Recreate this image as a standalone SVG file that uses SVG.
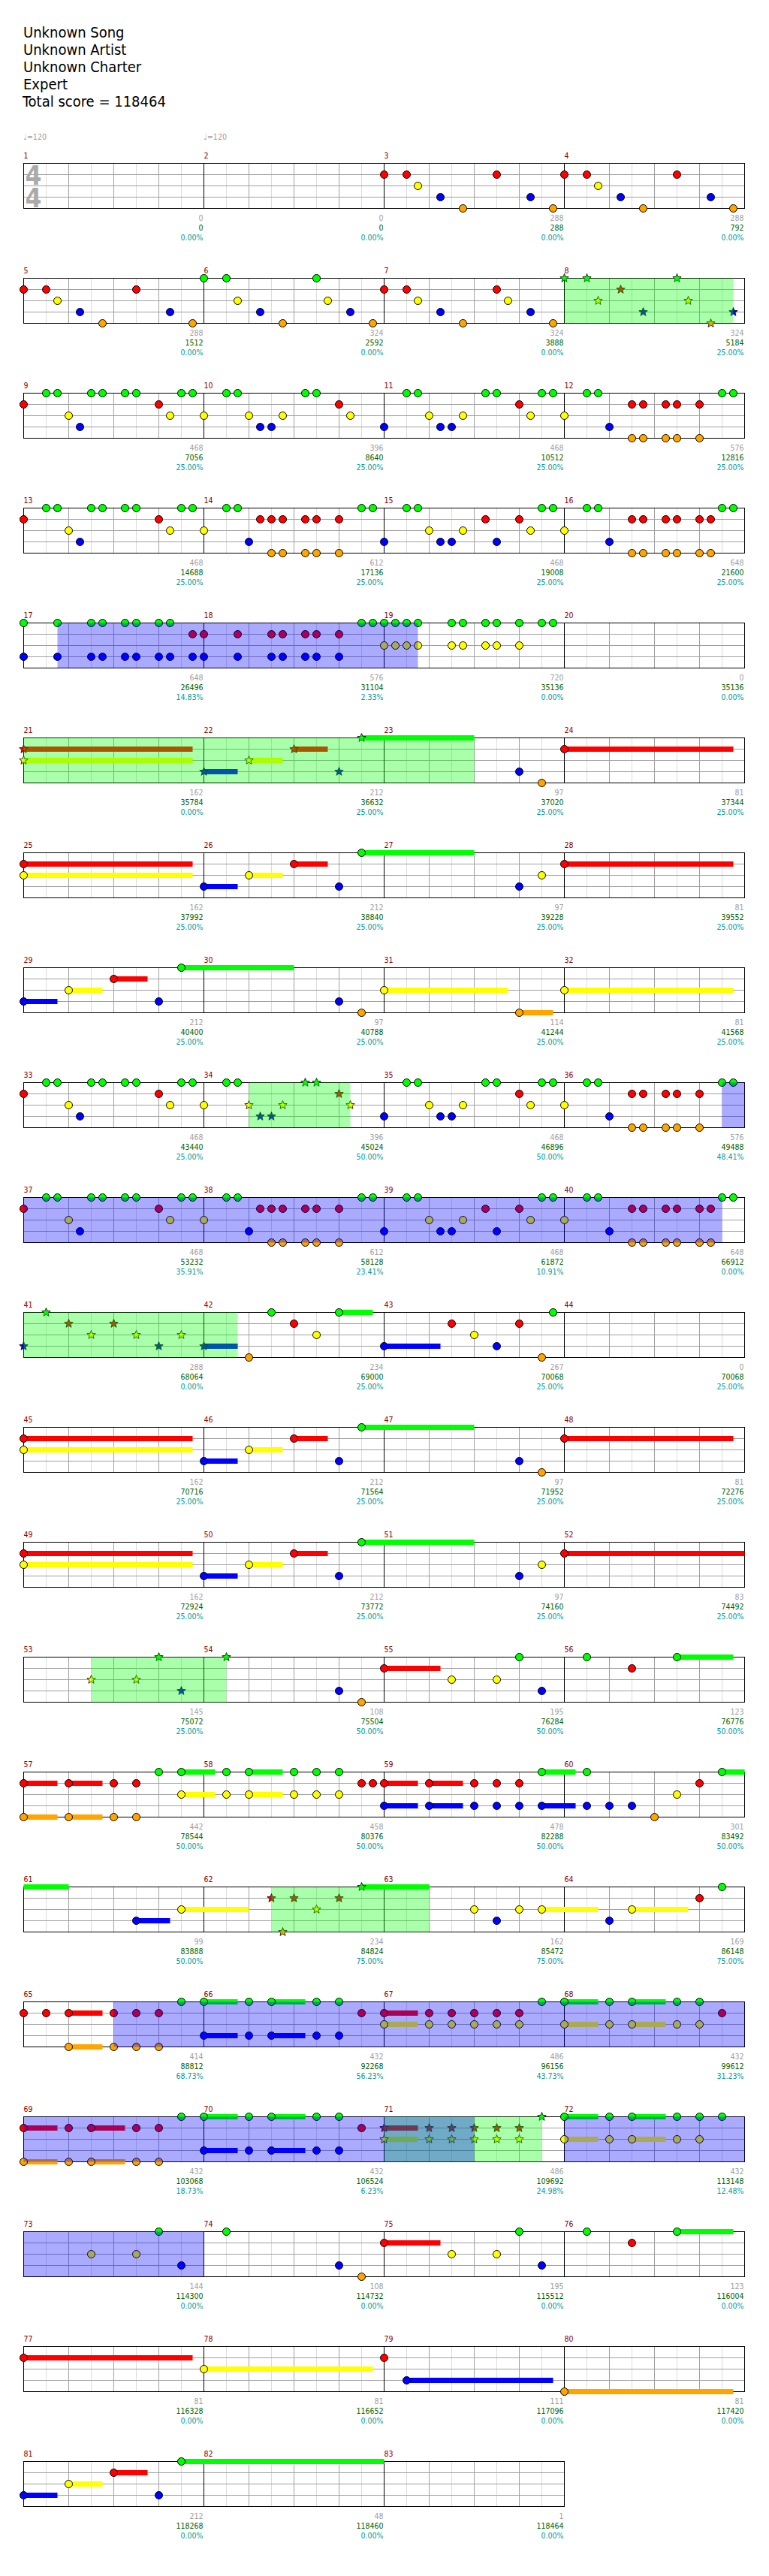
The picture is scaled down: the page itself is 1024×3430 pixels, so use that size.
<svg xmlns="http://www.w3.org/2000/svg" width="1024" height="3430" viewBox="0 0 1024 3430">
<style>
text{font-family:"DejaVu Sans Condensed","DejaVu Sans",sans-serif;font-stretch:condensed}
.h{font-size:20px;fill:#000}
.mn{font-size:10.5px;fill:#8b0000}
.tp{font-size:10.5px;fill:#999}
.ts{font-size:35px;font-weight:bold;fill:#aaa;text-anchor:middle}
.s1,.s2,.s3{font-size:10.5px;text-anchor:end}
.s1{fill:#a0a0a0}.s2{fill:#006400}.s3{fill:#009b9b}
.g{fill:#00ff00}.r{fill:#ff0000}.y{fill:#ffff00}.b{fill:#0000ff}.o{fill:#ffa500}
circle{stroke:#000;stroke-width:1}
.lg{stroke:#dcdcdc;fill:none}.dk{stroke:#a0a0a0;fill:none}
.gp{fill:#00ff00;fill-opacity:.333}.bp{fill:#0000ff;fill-opacity:.333}
</style>
<defs>
<g id="meas"><path class="lg" d="M30 0V60M90 0V60M150 0V60M210 0V60"/><path class="dk" d="M60 0V60M120 0V60M180 0V60M0 15H240M0 30H240M0 45H240"/></g>
<g id="g4"><use href="#meas"/><use href="#meas" x="240"/><use href="#meas" x="480"/><use href="#meas" x="720"/><path d="M240 0V60M480 0V60M720 0V60" stroke="#000" fill="none"/><rect width="960" height="60" fill="none" stroke="#000"/></g>
<g id="g3"><use href="#meas"/><use href="#meas" x="240"/><use href="#meas" x="480"/><path d="M240 0V60M480 0V60" stroke="#000" fill="none"/><rect width="720" height="60" fill="none" stroke="#000"/></g>
<path id="st" d="M0-6L1.53-2.1L5.71-1.85L2.47 0.8L3.53 4.85L0 2.6L-3.53 4.85L-2.47 0.8L-5.71-1.85L-1.53-2.1Z" stroke="#000" stroke-width=".8"/>
</defs>
<rect width="1024" height="3430" fill="#fff"/>
<g id="header">
<text class="h" x="31" y="50">Unknown Song</text>
<text class="h" x="31" y="73">Unknown Artist</text>
<text class="h" x="31" y="96">Unknown Charter</text>
<text class="h" x="31" y="119">Expert</text>
<text class="h" x="30" y="142">Total score = 118464</text>
</g>

<g id="row1" transform="translate(31.5,217.5)">
<use href="#g4"/>
<text class="ts"><tspan x="13" y="28">4</tspan><tspan x="13" y="58">4</tspan></text>
<circle class="r" cx="480" cy="15" r="5"/><circle class="r" cx="510" cy="15" r="5"/><circle class="y" cx="525" cy="30" r="5"/><circle class="b" cx="555" cy="45" r="5"/><circle class="o" cx="585" cy="60" r="5"/><circle class="r" cx="630" cy="15" r="5"/><circle class="b" cx="675" cy="45" r="5"/><circle class="o" cx="705" cy="60" r="5"/>
<circle class="r" cx="720" cy="15" r="5"/><circle class="r" cx="750" cy="15" r="5"/><circle class="y" cx="765" cy="30" r="5"/><circle class="b" cx="795" cy="45" r="5"/><circle class="o" cx="825" cy="60" r="5"/><circle class="r" cx="870" cy="15" r="5"/><circle class="b" cx="915" cy="45" r="5"/><circle class="o" cx="945" cy="60" r="5"/>
<text class="tp" x="0" y="-32">♩=120</text><text class="tp" x="240" y="-32">♩=120</text>
<text class="mn" x="0" y="-7">1</text><text class="mn" x="240" y="-7">2</text><text class="mn" x="480" y="-7">3</text><text class="mn" x="720" y="-7">4</text>
<text class="s1" x="239" y="76">0</text><text class="s2" x="239" y="89">0</text><text class="s3" x="239" y="102">0.00%</text>
<text class="s1" x="479" y="76">0</text><text class="s2" x="479" y="89">0</text><text class="s3" x="479" y="102">0.00%</text>
<text class="s1" x="719" y="76">288</text><text class="s2" x="719" y="89">288</text><text class="s3" x="719" y="102">0.00%</text>
<text class="s1" x="959" y="76">288</text><text class="s2" x="959" y="89">792</text><text class="s3" x="959" y="102">0.00%</text>
</g>

<g id="row2" transform="translate(31.5,370.5)">
<use href="#g4"/>
<circle class="r" cx="0" cy="15" r="5"/><circle class="r" cx="30" cy="15" r="5"/><circle class="y" cx="45" cy="30" r="5"/><circle class="b" cx="75" cy="45" r="5"/><circle class="o" cx="105" cy="60" r="5"/><circle class="r" cx="150" cy="15" r="5"/><circle class="b" cx="195" cy="45" r="5"/><circle class="o" cx="225" cy="60" r="5"/>
<circle class="g" cx="240" cy="0" r="5"/><circle class="g" cx="270" cy="0" r="5"/><circle class="y" cx="285" cy="30" r="5"/><circle class="b" cx="315" cy="45" r="5"/><circle class="o" cx="345" cy="60" r="5"/><circle class="g" cx="390" cy="0" r="5"/><circle class="y" cx="405" cy="30" r="5"/><circle class="b" cx="435" cy="45" r="5"/><circle class="o" cx="465" cy="60" r="5"/>
<circle class="r" cx="480" cy="15" r="5"/><circle class="r" cx="510" cy="15" r="5"/><circle class="y" cx="525" cy="30" r="5"/><circle class="b" cx="555" cy="45" r="5"/><circle class="o" cx="585" cy="60" r="5"/><circle class="r" cx="630" cy="15" r="5"/><circle class="y" cx="645" cy="30" r="5"/><circle class="b" cx="675" cy="45" r="5"/><circle class="o" cx="705" cy="60" r="5"/>
<use href="#st" class="g" x="720" y="0"/><use href="#st" class="g" x="750" y="0"/><use href="#st" class="y" x="765" y="30"/><use href="#st" class="r" x="795" y="15"/><use href="#st" class="b" x="825" y="45"/><use href="#st" class="g" x="870" y="0"/><use href="#st" class="y" x="885" y="30"/><use href="#st" class="o" x="915" y="60"/><use href="#st" class="b" x="945" y="45"/>
<rect class="gp" x="720" y="0" width="225" height="60"/>
<text class="mn" x="0" y="-7">5</text><text class="mn" x="240" y="-7">6</text><text class="mn" x="480" y="-7">7</text><text class="mn" x="720" y="-7">8</text>
<text class="s1" x="239" y="76">288</text><text class="s2" x="239" y="89">1512</text><text class="s3" x="239" y="102">0.00%</text>
<text class="s1" x="479" y="76">324</text><text class="s2" x="479" y="89">2592</text><text class="s3" x="479" y="102">0.00%</text>
<text class="s1" x="719" y="76">324</text><text class="s2" x="719" y="89">3888</text><text class="s3" x="719" y="102">0.00%</text>
<text class="s1" x="959" y="76">324</text><text class="s2" x="959" y="89">5184</text><text class="s3" x="959" y="102">25.00%</text>
</g>

<g id="row3" transform="translate(31.5,523.5)">
<use href="#g4"/>
<circle class="g" cx="30" cy="0" r="5"/><circle class="g" cx="45" cy="0" r="5"/><circle class="g" cx="90" cy="0" r="5"/><circle class="g" cx="105" cy="0" r="5"/><circle class="g" cx="135" cy="0" r="5"/><circle class="g" cx="150" cy="0" r="5"/><circle class="g" cx="210" cy="0" r="5"/><circle class="g" cx="225" cy="0" r="5"/><circle class="g" cx="270" cy="0" r="5"/><circle class="g" cx="285" cy="0" r="5"/><circle class="g" cx="375" cy="0" r="5"/><circle class="g" cx="390" cy="0" r="5"/><circle class="g" cx="510" cy="0" r="5"/><circle class="g" cx="525" cy="0" r="5"/><circle class="g" cx="615" cy="0" r="5"/><circle class="g" cx="630" cy="0" r="5"/><circle class="g" cx="690" cy="0" r="5"/><circle class="g" cx="705" cy="0" r="5"/><circle class="g" cx="750" cy="0" r="5"/><circle class="g" cx="765" cy="0" r="5"/><circle class="g" cx="930" cy="0" r="5"/><circle class="g" cx="945" cy="0" r="5"/>
<circle class="r" cx="0" cy="15" r="5"/><circle class="r" cx="180" cy="15" r="5"/><circle class="r" cx="420" cy="15" r="5"/><circle class="r" cx="660" cy="15" r="5"/><circle class="r" cx="810" cy="15" r="5"/><circle class="r" cx="825" cy="15" r="5"/><circle class="r" cx="855" cy="15" r="5"/><circle class="r" cx="870" cy="15" r="5"/><circle class="r" cx="900" cy="15" r="5"/>
<circle class="y" cx="60" cy="30" r="5"/><circle class="y" cx="195" cy="30" r="5"/><circle class="y" cx="240" cy="30" r="5"/><circle class="y" cx="300" cy="30" r="5"/><circle class="y" cx="345" cy="30" r="5"/><circle class="y" cx="435" cy="30" r="5"/><circle class="y" cx="540" cy="30" r="5"/><circle class="y" cx="585" cy="30" r="5"/><circle class="y" cx="675" cy="30" r="5"/><circle class="y" cx="720" cy="30" r="5"/>
<circle class="b" cx="75" cy="45" r="5"/><circle class="b" cx="315" cy="45" r="5"/><circle class="b" cx="330" cy="45" r="5"/><circle class="b" cx="480" cy="45" r="5"/><circle class="b" cx="555" cy="45" r="5"/><circle class="b" cx="570" cy="45" r="5"/><circle class="b" cx="780" cy="45" r="5"/>
<circle class="o" cx="810" cy="60" r="5"/><circle class="o" cx="825" cy="60" r="5"/><circle class="o" cx="855" cy="60" r="5"/><circle class="o" cx="870" cy="60" r="5"/><circle class="o" cx="900" cy="60" r="5"/>
<text class="mn" x="0" y="-7">9</text><text class="mn" x="240" y="-7">10</text><text class="mn" x="480" y="-7">11</text><text class="mn" x="720" y="-7">12</text>
<text class="s1" x="239" y="76">468</text><text class="s2" x="239" y="89">7056</text><text class="s3" x="239" y="102">25.00%</text>
<text class="s1" x="479" y="76">396</text><text class="s2" x="479" y="89">8640</text><text class="s3" x="479" y="102">25.00%</text>
<text class="s1" x="719" y="76">468</text><text class="s2" x="719" y="89">10512</text><text class="s3" x="719" y="102">25.00%</text>
<text class="s1" x="959" y="76">576</text><text class="s2" x="959" y="89">12816</text><text class="s3" x="959" y="102">25.00%</text>
</g>

<g id="row4" transform="translate(31.5,676.5)">
<use href="#g4"/>
<circle class="g" cx="30" cy="0" r="5"/><circle class="g" cx="45" cy="0" r="5"/><circle class="g" cx="90" cy="0" r="5"/><circle class="g" cx="105" cy="0" r="5"/><circle class="g" cx="135" cy="0" r="5"/><circle class="g" cx="150" cy="0" r="5"/><circle class="g" cx="210" cy="0" r="5"/><circle class="g" cx="225" cy="0" r="5"/><circle class="g" cx="270" cy="0" r="5"/><circle class="g" cx="285" cy="0" r="5"/><circle class="g" cx="450" cy="0" r="5"/><circle class="g" cx="465" cy="0" r="5"/><circle class="g" cx="510" cy="0" r="5"/><circle class="g" cx="525" cy="0" r="5"/><circle class="g" cx="690" cy="0" r="5"/><circle class="g" cx="705" cy="0" r="5"/><circle class="g" cx="750" cy="0" r="5"/><circle class="g" cx="765" cy="0" r="5"/><circle class="g" cx="930" cy="0" r="5"/><circle class="g" cx="945" cy="0" r="5"/>
<circle class="r" cx="0" cy="15" r="5"/><circle class="r" cx="180" cy="15" r="5"/><circle class="r" cx="315" cy="15" r="5"/><circle class="r" cx="330" cy="15" r="5"/><circle class="r" cx="345" cy="15" r="5"/><circle class="r" cx="375" cy="15" r="5"/><circle class="r" cx="390" cy="15" r="5"/><circle class="r" cx="420" cy="15" r="5"/><circle class="r" cx="615" cy="15" r="5"/><circle class="r" cx="660" cy="15" r="5"/><circle class="r" cx="810" cy="15" r="5"/><circle class="r" cx="825" cy="15" r="5"/><circle class="r" cx="855" cy="15" r="5"/><circle class="r" cx="870" cy="15" r="5"/><circle class="r" cx="900" cy="15" r="5"/><circle class="r" cx="915" cy="15" r="5"/>
<circle class="y" cx="60" cy="30" r="5"/><circle class="y" cx="195" cy="30" r="5"/><circle class="y" cx="240" cy="30" r="5"/><circle class="y" cx="540" cy="30" r="5"/><circle class="y" cx="585" cy="30" r="5"/><circle class="y" cx="675" cy="30" r="5"/><circle class="y" cx="720" cy="30" r="5"/>
<circle class="b" cx="75" cy="45" r="5"/><circle class="b" cx="300" cy="45" r="5"/><circle class="b" cx="480" cy="45" r="5"/><circle class="b" cx="555" cy="45" r="5"/><circle class="b" cx="570" cy="45" r="5"/><circle class="b" cx="630" cy="45" r="5"/><circle class="b" cx="780" cy="45" r="5"/>
<circle class="o" cx="330" cy="60" r="5"/><circle class="o" cx="345" cy="60" r="5"/><circle class="o" cx="375" cy="60" r="5"/><circle class="o" cx="390" cy="60" r="5"/><circle class="o" cx="420" cy="60" r="5"/><circle class="o" cx="810" cy="60" r="5"/><circle class="o" cx="825" cy="60" r="5"/><circle class="o" cx="855" cy="60" r="5"/><circle class="o" cx="870" cy="60" r="5"/><circle class="o" cx="900" cy="60" r="5"/><circle class="o" cx="915" cy="60" r="5"/>
<text class="mn" x="0" y="-7">13</text><text class="mn" x="240" y="-7">14</text><text class="mn" x="480" y="-7">15</text><text class="mn" x="720" y="-7">16</text>
<text class="s1" x="239" y="76">468</text><text class="s2" x="239" y="89">14688</text><text class="s3" x="239" y="102">25.00%</text>
<text class="s1" x="479" y="76">612</text><text class="s2" x="479" y="89">17136</text><text class="s3" x="479" y="102">25.00%</text>
<text class="s1" x="719" y="76">468</text><text class="s2" x="719" y="89">19008</text><text class="s3" x="719" y="102">25.00%</text>
<text class="s1" x="959" y="76">648</text><text class="s2" x="959" y="89">21600</text><text class="s3" x="959" y="102">25.00%</text>
</g>

<g id="row5" transform="translate(31.5,829.5)">
<use href="#g4"/>
<circle class="g" cx="0" cy="0" r="5"/><circle class="g" cx="45" cy="0" r="5"/><circle class="g" cx="90" cy="0" r="5"/><circle class="g" cx="105" cy="0" r="5"/><circle class="g" cx="135" cy="0" r="5"/><circle class="g" cx="150" cy="0" r="5"/><circle class="g" cx="180" cy="0" r="5"/><circle class="g" cx="195" cy="0" r="5"/><circle class="g" cx="450" cy="0" r="5"/><circle class="g" cx="465" cy="0" r="5"/><circle class="g" cx="480" cy="0" r="5"/><circle class="g" cx="495" cy="0" r="5"/><circle class="g" cx="510" cy="0" r="5"/><circle class="g" cx="525" cy="0" r="5"/><circle class="g" cx="570" cy="0" r="5"/><circle class="g" cx="585" cy="0" r="5"/><circle class="g" cx="615" cy="0" r="5"/><circle class="g" cx="630" cy="0" r="5"/><circle class="g" cx="660" cy="0" r="5"/><circle class="g" cx="690" cy="0" r="5"/><circle class="g" cx="705" cy="0" r="5"/>
<circle class="r" cx="225" cy="15" r="5"/><circle class="r" cx="240" cy="15" r="5"/><circle class="r" cx="285" cy="15" r="5"/><circle class="r" cx="330" cy="15" r="5"/><circle class="r" cx="345" cy="15" r="5"/><circle class="r" cx="375" cy="15" r="5"/><circle class="r" cx="390" cy="15" r="5"/><circle class="r" cx="420" cy="15" r="5"/>
<circle class="y" cx="480" cy="30" r="5"/><circle class="y" cx="495" cy="30" r="5"/><circle class="y" cx="510" cy="30" r="5"/><circle class="y" cx="525" cy="30" r="5"/><circle class="y" cx="570" cy="30" r="5"/><circle class="y" cx="585" cy="30" r="5"/><circle class="y" cx="615" cy="30" r="5"/><circle class="y" cx="630" cy="30" r="5"/><circle class="y" cx="660" cy="30" r="5"/>
<circle class="b" cx="0" cy="45" r="5"/><circle class="b" cx="45" cy="45" r="5"/><circle class="b" cx="90" cy="45" r="5"/><circle class="b" cx="105" cy="45" r="5"/><circle class="b" cx="135" cy="45" r="5"/><circle class="b" cx="150" cy="45" r="5"/><circle class="b" cx="180" cy="45" r="5"/><circle class="b" cx="195" cy="45" r="5"/><circle class="b" cx="225" cy="45" r="5"/><circle class="b" cx="240" cy="45" r="5"/><circle class="b" cx="285" cy="45" r="5"/><circle class="b" cx="330" cy="45" r="5"/><circle class="b" cx="345" cy="45" r="5"/><circle class="b" cx="375" cy="45" r="5"/><circle class="b" cx="390" cy="45" r="5"/><circle class="b" cx="420" cy="45" r="5"/>
<rect class="bp" x="45" y="0" width="480" height="60"/>
<text class="mn" x="0" y="-7">17</text><text class="mn" x="240" y="-7">18</text><text class="mn" x="480" y="-7">19</text><text class="mn" x="720" y="-7">20</text>
<text class="s1" x="239" y="76">648</text><text class="s2" x="239" y="89">26496</text><text class="s3" x="239" y="102">14.83%</text>
<text class="s1" x="479" y="76">576</text><text class="s2" x="479" y="89">31104</text><text class="s3" x="479" y="102">2.33%</text>
<text class="s1" x="719" y="76">720</text><text class="s2" x="719" y="89">35136</text><text class="s3" x="719" y="102">0.00%</text>
<text class="s1" x="959" y="76">0</text><text class="s2" x="959" y="89">35136</text><text class="s3" x="959" y="102">0.00%</text>
</g>

<g id="row6" transform="translate(31.5,982.5)">
<use href="#g4"/>
<rect class="r" x="0" y="11.5" width="225" height="7"/><rect class="y" x="0" y="26.5" width="225" height="7"/><rect class="b" x="240" y="41.5" width="45" height="7"/><rect class="y" x="300" y="26.5" width="45" height="7"/><rect class="r" x="360" y="11.5" width="45" height="7"/><rect class="g" x="450" y="-3.5" width="150" height="7"/><rect class="r" x="720" y="11.5" width="225" height="7"/>
<use href="#st" class="r" x="0" y="15"/><use href="#st" class="y" x="0" y="30"/><use href="#st" class="b" x="240" y="45"/><use href="#st" class="y" x="300" y="30"/><use href="#st" class="r" x="360" y="15"/><use href="#st" class="b" x="420" y="45"/><use href="#st" class="g" x="450" y="0"/>
<circle class="b" cx="660" cy="45" r="5"/><circle class="o" cx="690" cy="60" r="5"/><circle class="r" cx="720" cy="15" r="5"/>
<rect class="gp" x="0" y="0" width="600" height="60"/>
<text class="mn" x="0" y="-7">21</text><text class="mn" x="240" y="-7">22</text><text class="mn" x="480" y="-7">23</text><text class="mn" x="720" y="-7">24</text>
<text class="s1" x="239" y="76">162</text><text class="s2" x="239" y="89">35784</text><text class="s3" x="239" y="102">0.00%</text>
<text class="s1" x="479" y="76">212</text><text class="s2" x="479" y="89">36632</text><text class="s3" x="479" y="102">25.00%</text>
<text class="s1" x="719" y="76">97</text><text class="s2" x="719" y="89">37020</text><text class="s3" x="719" y="102">25.00%</text>
<text class="s1" x="959" y="76">81</text><text class="s2" x="959" y="89">37344</text><text class="s3" x="959" y="102">25.00%</text>
</g>

<g id="row7" transform="translate(31.5,1135.5)">
<use href="#g4"/>
<rect class="r" x="0" y="11.5" width="225" height="7"/><rect class="y" x="0" y="26.5" width="225" height="7"/><rect class="b" x="240" y="41.5" width="45" height="7"/><rect class="y" x="300" y="26.5" width="45" height="7"/><rect class="r" x="360" y="11.5" width="45" height="7"/><rect class="g" x="450" y="-3.5" width="150" height="7"/><rect class="r" x="720" y="11.5" width="225" height="7"/>
<circle class="r" cx="0" cy="15" r="5"/><circle class="y" cx="0" cy="30" r="5"/><circle class="b" cx="240" cy="45" r="5"/><circle class="y" cx="300" cy="30" r="5"/><circle class="r" cx="360" cy="15" r="5"/><circle class="b" cx="420" cy="45" r="5"/><circle class="g" cx="450" cy="0" r="5"/><circle class="b" cx="660" cy="45" r="5"/><circle class="y" cx="690" cy="30" r="5"/><circle class="r" cx="720" cy="15" r="5"/>
<text class="mn" x="0" y="-7">25</text><text class="mn" x="240" y="-7">26</text><text class="mn" x="480" y="-7">27</text><text class="mn" x="720" y="-7">28</text>
<text class="s1" x="239" y="76">162</text><text class="s2" x="239" y="89">37992</text><text class="s3" x="239" y="102">25.00%</text>
<text class="s1" x="479" y="76">212</text><text class="s2" x="479" y="89">38840</text><text class="s3" x="479" y="102">25.00%</text>
<text class="s1" x="719" y="76">97</text><text class="s2" x="719" y="89">39228</text><text class="s3" x="719" y="102">25.00%</text>
<text class="s1" x="959" y="76">81</text><text class="s2" x="959" y="89">39552</text><text class="s3" x="959" y="102">25.00%</text>
</g>

<g id="row8" transform="translate(31.5,1288.5)">
<use href="#g4"/>
<rect class="b" x="0" y="41.5" width="45" height="7"/><rect class="y" x="60" y="26.5" width="45" height="7"/><rect class="r" x="120" y="11.5" width="45" height="7"/><rect class="g" x="210" y="-3.5" width="150" height="7"/><rect class="y" x="480" y="26.5" width="165" height="7"/><rect class="o" x="660" y="56.5" width="45" height="7"/><rect class="y" x="720" y="26.5" width="225" height="7"/>
<circle class="b" cx="0" cy="45" r="5"/><circle class="y" cx="60" cy="30" r="5"/><circle class="r" cx="120" cy="15" r="5"/><circle class="b" cx="180" cy="45" r="5"/><circle class="g" cx="210" cy="0" r="5"/><circle class="b" cx="420" cy="45" r="5"/><circle class="o" cx="450" cy="60" r="5"/><circle class="y" cx="480" cy="30" r="5"/><circle class="o" cx="660" cy="60" r="5"/><circle class="y" cx="720" cy="30" r="5"/>
<text class="mn" x="0" y="-7">29</text><text class="mn" x="240" y="-7">30</text><text class="mn" x="480" y="-7">31</text><text class="mn" x="720" y="-7">32</text>
<text class="s1" x="239" y="76">212</text><text class="s2" x="239" y="89">40400</text><text class="s3" x="239" y="102">25.00%</text>
<text class="s1" x="479" y="76">97</text><text class="s2" x="479" y="89">40788</text><text class="s3" x="479" y="102">25.00%</text>
<text class="s1" x="719" y="76">114</text><text class="s2" x="719" y="89">41244</text><text class="s3" x="719" y="102">25.00%</text>
<text class="s1" x="959" y="76">81</text><text class="s2" x="959" y="89">41568</text><text class="s3" x="959" y="102">25.00%</text>
</g>

<g id="row9" transform="translate(31.5,1441.5)">
<use href="#g4"/>
<circle class="g" cx="30" cy="0" r="5"/><circle class="g" cx="45" cy="0" r="5"/><circle class="g" cx="90" cy="0" r="5"/><circle class="g" cx="105" cy="0" r="5"/><circle class="g" cx="135" cy="0" r="5"/><circle class="g" cx="150" cy="0" r="5"/><circle class="g" cx="210" cy="0" r="5"/><circle class="g" cx="225" cy="0" r="5"/><circle class="g" cx="270" cy="0" r="5"/><circle class="g" cx="285" cy="0" r="5"/><circle class="g" cx="510" cy="0" r="5"/><circle class="g" cx="525" cy="0" r="5"/><circle class="g" cx="615" cy="0" r="5"/><circle class="g" cx="630" cy="0" r="5"/><circle class="g" cx="690" cy="0" r="5"/><circle class="g" cx="705" cy="0" r="5"/><circle class="g" cx="750" cy="0" r="5"/><circle class="g" cx="765" cy="0" r="5"/><circle class="g" cx="930" cy="0" r="5"/><circle class="g" cx="945" cy="0" r="5"/>
<circle class="r" cx="0" cy="15" r="5"/><circle class="r" cx="180" cy="15" r="5"/><circle class="r" cx="660" cy="15" r="5"/><circle class="r" cx="810" cy="15" r="5"/><circle class="r" cx="825" cy="15" r="5"/><circle class="r" cx="855" cy="15" r="5"/><circle class="r" cx="870" cy="15" r="5"/><circle class="r" cx="900" cy="15" r="5"/>
<circle class="y" cx="60" cy="30" r="5"/><circle class="y" cx="195" cy="30" r="5"/><circle class="y" cx="240" cy="30" r="5"/><circle class="y" cx="540" cy="30" r="5"/><circle class="y" cx="585" cy="30" r="5"/><circle class="y" cx="675" cy="30" r="5"/><circle class="y" cx="720" cy="30" r="5"/>
<circle class="b" cx="75" cy="45" r="5"/><circle class="b" cx="480" cy="45" r="5"/><circle class="b" cx="555" cy="45" r="5"/><circle class="b" cx="570" cy="45" r="5"/><circle class="b" cx="780" cy="45" r="5"/>
<circle class="o" cx="810" cy="60" r="5"/><circle class="o" cx="825" cy="60" r="5"/><circle class="o" cx="855" cy="60" r="5"/><circle class="o" cx="870" cy="60" r="5"/><circle class="o" cx="900" cy="60" r="5"/>
<use href="#st" class="g" x="375" y="0"/><use href="#st" class="g" x="390" y="0"/><use href="#st" class="r" x="420" y="15"/><use href="#st" class="y" x="300" y="30"/><use href="#st" class="y" x="345" y="30"/><use href="#st" class="y" x="435" y="30"/><use href="#st" class="b" x="315" y="45"/><use href="#st" class="b" x="330" y="45"/>
<rect class="gp" x="300" y="0" width="135" height="60"/><rect class="bp" x="930" y="0" width="30" height="60"/>
<text class="mn" x="0" y="-7">33</text><text class="mn" x="240" y="-7">34</text><text class="mn" x="480" y="-7">35</text><text class="mn" x="720" y="-7">36</text>
<text class="s1" x="239" y="76">468</text><text class="s2" x="239" y="89">43440</text><text class="s3" x="239" y="102">25.00%</text>
<text class="s1" x="479" y="76">396</text><text class="s2" x="479" y="89">45024</text><text class="s3" x="479" y="102">50.00%</text>
<text class="s1" x="719" y="76">468</text><text class="s2" x="719" y="89">46896</text><text class="s3" x="719" y="102">50.00%</text>
<text class="s1" x="959" y="76">576</text><text class="s2" x="959" y="89">49488</text><text class="s3" x="959" y="102">48.41%</text>
</g>

<g id="row10" transform="translate(31.5,1594.5)">
<use href="#g4"/>
<circle class="g" cx="30" cy="0" r="5"/><circle class="g" cx="45" cy="0" r="5"/><circle class="g" cx="90" cy="0" r="5"/><circle class="g" cx="105" cy="0" r="5"/><circle class="g" cx="135" cy="0" r="5"/><circle class="g" cx="150" cy="0" r="5"/><circle class="g" cx="210" cy="0" r="5"/><circle class="g" cx="225" cy="0" r="5"/><circle class="g" cx="270" cy="0" r="5"/><circle class="g" cx="285" cy="0" r="5"/><circle class="g" cx="450" cy="0" r="5"/><circle class="g" cx="465" cy="0" r="5"/><circle class="g" cx="510" cy="0" r="5"/><circle class="g" cx="525" cy="0" r="5"/><circle class="g" cx="690" cy="0" r="5"/><circle class="g" cx="705" cy="0" r="5"/><circle class="g" cx="750" cy="0" r="5"/><circle class="g" cx="765" cy="0" r="5"/><circle class="g" cx="930" cy="0" r="5"/><circle class="g" cx="945" cy="0" r="5"/>
<circle class="r" cx="0" cy="15" r="5"/><circle class="r" cx="180" cy="15" r="5"/><circle class="r" cx="315" cy="15" r="5"/><circle class="r" cx="330" cy="15" r="5"/><circle class="r" cx="345" cy="15" r="5"/><circle class="r" cx="375" cy="15" r="5"/><circle class="r" cx="390" cy="15" r="5"/><circle class="r" cx="420" cy="15" r="5"/><circle class="r" cx="615" cy="15" r="5"/><circle class="r" cx="660" cy="15" r="5"/><circle class="r" cx="810" cy="15" r="5"/><circle class="r" cx="825" cy="15" r="5"/><circle class="r" cx="855" cy="15" r="5"/><circle class="r" cx="870" cy="15" r="5"/><circle class="r" cx="900" cy="15" r="5"/><circle class="r" cx="915" cy="15" r="5"/>
<circle class="y" cx="60" cy="30" r="5"/><circle class="y" cx="195" cy="30" r="5"/><circle class="y" cx="240" cy="30" r="5"/><circle class="y" cx="540" cy="30" r="5"/><circle class="y" cx="585" cy="30" r="5"/><circle class="y" cx="675" cy="30" r="5"/><circle class="y" cx="720" cy="30" r="5"/>
<circle class="b" cx="75" cy="45" r="5"/><circle class="b" cx="300" cy="45" r="5"/><circle class="b" cx="480" cy="45" r="5"/><circle class="b" cx="555" cy="45" r="5"/><circle class="b" cx="570" cy="45" r="5"/><circle class="b" cx="630" cy="45" r="5"/><circle class="b" cx="780" cy="45" r="5"/>
<circle class="o" cx="330" cy="60" r="5"/><circle class="o" cx="345" cy="60" r="5"/><circle class="o" cx="375" cy="60" r="5"/><circle class="o" cx="390" cy="60" r="5"/><circle class="o" cx="420" cy="60" r="5"/><circle class="o" cx="810" cy="60" r="5"/><circle class="o" cx="825" cy="60" r="5"/><circle class="o" cx="855" cy="60" r="5"/><circle class="o" cx="870" cy="60" r="5"/><circle class="o" cx="900" cy="60" r="5"/><circle class="o" cx="915" cy="60" r="5"/>
<rect class="bp" x="0" y="0" width="930" height="60"/>
<text class="mn" x="0" y="-7">37</text><text class="mn" x="240" y="-7">38</text><text class="mn" x="480" y="-7">39</text><text class="mn" x="720" y="-7">40</text>
<text class="s1" x="239" y="76">468</text><text class="s2" x="239" y="89">53232</text><text class="s3" x="239" y="102">35.91%</text>
<text class="s1" x="479" y="76">612</text><text class="s2" x="479" y="89">58128</text><text class="s3" x="479" y="102">23.41%</text>
<text class="s1" x="719" y="76">468</text><text class="s2" x="719" y="89">61872</text><text class="s3" x="719" y="102">10.91%</text>
<text class="s1" x="959" y="76">648</text><text class="s2" x="959" y="89">66912</text><text class="s3" x="959" y="102">0.00%</text>
</g>

<g id="row11" transform="translate(31.5,1747.5)">
<use href="#g4"/>
<rect class="b" x="240" y="41.5" width="45" height="7"/><rect class="g" x="420" y="-3.5" width="45" height="7"/><rect class="b" x="480" y="41.5" width="75" height="7"/>
<use href="#st" class="b" x="0" y="45"/><use href="#st" class="g" x="30" y="0"/><use href="#st" class="r" x="60" y="15"/><use href="#st" class="y" x="90" y="30"/><use href="#st" class="r" x="120" y="15"/><use href="#st" class="y" x="150" y="30"/><use href="#st" class="b" x="180" y="45"/><use href="#st" class="y" x="210" y="30"/><use href="#st" class="b" x="240" y="45"/>
<circle class="o" cx="300" cy="60" r="5"/><circle class="g" cx="330" cy="0" r="5"/><circle class="r" cx="360" cy="15" r="5"/><circle class="y" cx="390" cy="30" r="5"/><circle class="g" cx="420" cy="0" r="5"/><circle class="b" cx="480" cy="45" r="5"/><circle class="r" cx="570" cy="15" r="5"/><circle class="y" cx="600" cy="30" r="5"/><circle class="b" cx="630" cy="45" r="5"/><circle class="r" cx="660" cy="15" r="5"/><circle class="o" cx="690" cy="60" r="5"/><circle class="g" cx="705" cy="0" r="5"/>
<rect class="gp" x="0" y="0" width="285" height="60"/>
<text class="mn" x="0" y="-7">41</text><text class="mn" x="240" y="-7">42</text><text class="mn" x="480" y="-7">43</text><text class="mn" x="720" y="-7">44</text>
<text class="s1" x="239" y="76">288</text><text class="s2" x="239" y="89">68064</text><text class="s3" x="239" y="102">0.00%</text>
<text class="s1" x="479" y="76">234</text><text class="s2" x="479" y="89">69000</text><text class="s3" x="479" y="102">25.00%</text>
<text class="s1" x="719" y="76">267</text><text class="s2" x="719" y="89">70068</text><text class="s3" x="719" y="102">25.00%</text>
<text class="s1" x="959" y="76">0</text><text class="s2" x="959" y="89">70068</text><text class="s3" x="959" y="102">25.00%</text>
</g>

<g id="row12" transform="translate(31.5,1900.5)">
<use href="#g4"/>
<rect class="r" x="0" y="11.5" width="225" height="7"/><rect class="y" x="0" y="26.5" width="225" height="7"/><rect class="b" x="240" y="41.5" width="45" height="7"/><rect class="y" x="300" y="26.5" width="45" height="7"/><rect class="r" x="360" y="11.5" width="45" height="7"/><rect class="g" x="450" y="-3.5" width="150" height="7"/><rect class="r" x="720" y="11.5" width="225" height="7"/>
<circle class="r" cx="0" cy="15" r="5"/><circle class="y" cx="0" cy="30" r="5"/><circle class="b" cx="240" cy="45" r="5"/><circle class="y" cx="300" cy="30" r="5"/><circle class="r" cx="360" cy="15" r="5"/><circle class="b" cx="420" cy="45" r="5"/><circle class="g" cx="450" cy="0" r="5"/><circle class="b" cx="660" cy="45" r="5"/><circle class="o" cx="690" cy="60" r="5"/><circle class="r" cx="720" cy="15" r="5"/>
<text class="mn" x="0" y="-7">45</text><text class="mn" x="240" y="-7">46</text><text class="mn" x="480" y="-7">47</text><text class="mn" x="720" y="-7">48</text>
<text class="s1" x="239" y="76">162</text><text class="s2" x="239" y="89">70716</text><text class="s3" x="239" y="102">25.00%</text>
<text class="s1" x="479" y="76">212</text><text class="s2" x="479" y="89">71564</text><text class="s3" x="479" y="102">25.00%</text>
<text class="s1" x="719" y="76">97</text><text class="s2" x="719" y="89">71952</text><text class="s3" x="719" y="102">25.00%</text>
<text class="s1" x="959" y="76">81</text><text class="s2" x="959" y="89">72276</text><text class="s3" x="959" y="102">25.00%</text>
</g>

<g id="row13" transform="translate(31.5,2053.5)">
<use href="#g4"/>
<rect class="r" x="0" y="11.5" width="225" height="7"/><rect class="y" x="0" y="26.5" width="225" height="7"/><rect class="b" x="240" y="41.5" width="45" height="7"/><rect class="y" x="300" y="26.5" width="45" height="7"/><rect class="r" x="360" y="11.5" width="45" height="7"/><rect class="g" x="450" y="-3.5" width="150" height="7"/><rect class="r" x="720" y="11.5" width="240" height="7"/>
<circle class="r" cx="0" cy="15" r="5"/><circle class="y" cx="0" cy="30" r="5"/><circle class="b" cx="240" cy="45" r="5"/><circle class="y" cx="300" cy="30" r="5"/><circle class="r" cx="360" cy="15" r="5"/><circle class="b" cx="420" cy="45" r="5"/><circle class="g" cx="450" cy="0" r="5"/><circle class="b" cx="660" cy="45" r="5"/><circle class="y" cx="690" cy="30" r="5"/><circle class="r" cx="720" cy="15" r="5"/>
<text class="mn" x="0" y="-7">49</text><text class="mn" x="240" y="-7">50</text><text class="mn" x="480" y="-7">51</text><text class="mn" x="720" y="-7">52</text>
<text class="s1" x="239" y="76">162</text><text class="s2" x="239" y="89">72924</text><text class="s3" x="239" y="102">25.00%</text>
<text class="s1" x="479" y="76">212</text><text class="s2" x="479" y="89">73772</text><text class="s3" x="479" y="102">25.00%</text>
<text class="s1" x="719" y="76">97</text><text class="s2" x="719" y="89">74160</text><text class="s3" x="719" y="102">25.00%</text>
<text class="s1" x="959" y="76">83</text><text class="s2" x="959" y="89">74492</text><text class="s3" x="959" y="102">25.00%</text>
</g>

<g id="row14" transform="translate(31.5,2206.5)">
<use href="#g4"/>
<rect class="r" x="480" y="11.5" width="75" height="7"/><rect class="g" x="870" y="-3.5" width="75" height="7"/>
<use href="#st" class="y" x="90" y="30"/><use href="#st" class="y" x="150" y="30"/><use href="#st" class="g" x="180" y="0"/><use href="#st" class="b" x="210" y="45"/><use href="#st" class="g" x="270" y="0"/>
<circle class="b" cx="420" cy="45" r="5"/><circle class="o" cx="450" cy="60" r="5"/><circle class="r" cx="480" cy="15" r="5"/><circle class="y" cx="570" cy="30" r="5"/><circle class="y" cx="630" cy="30" r="5"/><circle class="g" cx="660" cy="0" r="5"/><circle class="b" cx="690" cy="45" r="5"/><circle class="g" cx="750" cy="0" r="5"/><circle class="r" cx="810" cy="15" r="5"/><circle class="g" cx="870" cy="0" r="5"/>
<rect class="gp" x="90" y="0" width="180" height="60"/>
<text class="mn" x="0" y="-7">53</text><text class="mn" x="240" y="-7">54</text><text class="mn" x="480" y="-7">55</text><text class="mn" x="720" y="-7">56</text>
<text class="s1" x="239" y="76">145</text><text class="s2" x="239" y="89">75072</text><text class="s3" x="239" y="102">25.00%</text>
<text class="s1" x="479" y="76">108</text><text class="s2" x="479" y="89">75504</text><text class="s3" x="479" y="102">50.00%</text>
<text class="s1" x="719" y="76">195</text><text class="s2" x="719" y="89">76284</text><text class="s3" x="719" y="102">50.00%</text>
<text class="s1" x="959" y="76">123</text><text class="s2" x="959" y="89">76776</text><text class="s3" x="959" y="102">50.00%</text>
</g>

<g id="row15" transform="translate(31.5,2359.5)">
<use href="#g4"/>
<rect class="r" x="0" y="11.5" width="45" height="7"/><rect class="r" x="60" y="11.5" width="45" height="7"/><rect class="o" x="0" y="56.5" width="45" height="7"/><rect class="o" x="60" y="56.5" width="45" height="7"/><rect class="g" x="210" y="-3.5" width="45" height="7"/><rect class="y" x="210" y="26.5" width="45" height="7"/><rect class="g" x="300" y="-3.5" width="45" height="7"/><rect class="y" x="300" y="26.5" width="45" height="7"/><rect class="r" x="480" y="11.5" width="45" height="7"/><rect class="b" x="480" y="41.5" width="45" height="7"/><rect class="r" x="540" y="11.5" width="45" height="7"/><rect class="b" x="540" y="41.5" width="45" height="7"/><rect class="g" x="690" y="-3.5" width="45" height="7"/><rect class="b" x="690" y="41.5" width="45" height="7"/><rect class="g" x="930" y="-3.5" width="30" height="7"/>
<circle class="r" cx="0" cy="15" r="5"/><circle class="r" cx="60" cy="15" r="5"/><circle class="r" cx="120" cy="15" r="5"/><circle class="r" cx="150" cy="15" r="5"/><circle class="r" cx="450" cy="15" r="5"/><circle class="r" cx="465" cy="15" r="5"/><circle class="r" cx="480" cy="15" r="5"/><circle class="r" cx="540" cy="15" r="5"/><circle class="r" cx="600" cy="15" r="5"/><circle class="r" cx="630" cy="15" r="5"/><circle class="r" cx="660" cy="15" r="5"/><circle class="r" cx="900" cy="15" r="5"/>
<circle class="o" cx="0" cy="60" r="5"/><circle class="o" cx="60" cy="60" r="5"/><circle class="o" cx="120" cy="60" r="5"/><circle class="o" cx="150" cy="60" r="5"/><circle class="o" cx="840" cy="60" r="5"/>
<circle class="g" cx="180" cy="0" r="5"/><circle class="g" cx="210" cy="0" r="5"/><circle class="g" cx="270" cy="0" r="5"/><circle class="g" cx="300" cy="0" r="5"/><circle class="g" cx="360" cy="0" r="5"/><circle class="g" cx="390" cy="0" r="5"/><circle class="g" cx="420" cy="0" r="5"/><circle class="g" cx="690" cy="0" r="5"/><circle class="g" cx="750" cy="0" r="5"/><circle class="g" cx="930" cy="0" r="5"/>
<circle class="y" cx="210" cy="30" r="5"/><circle class="y" cx="270" cy="30" r="5"/><circle class="y" cx="300" cy="30" r="5"/><circle class="y" cx="360" cy="30" r="5"/><circle class="y" cx="390" cy="30" r="5"/><circle class="y" cx="420" cy="30" r="5"/><circle class="y" cx="870" cy="30" r="5"/>
<circle class="b" cx="480" cy="45" r="5"/><circle class="b" cx="540" cy="45" r="5"/><circle class="b" cx="600" cy="45" r="5"/><circle class="b" cx="630" cy="45" r="5"/><circle class="b" cx="660" cy="45" r="5"/><circle class="b" cx="690" cy="45" r="5"/><circle class="b" cx="750" cy="45" r="5"/><circle class="b" cx="780" cy="45" r="5"/><circle class="b" cx="810" cy="45" r="5"/>
<text class="mn" x="0" y="-7">57</text><text class="mn" x="240" y="-7">58</text><text class="mn" x="480" y="-7">59</text><text class="mn" x="720" y="-7">60</text>
<text class="s1" x="239" y="76">442</text><text class="s2" x="239" y="89">78544</text><text class="s3" x="239" y="102">50.00%</text>
<text class="s1" x="479" y="76">458</text><text class="s2" x="479" y="89">80376</text><text class="s3" x="479" y="102">50.00%</text>
<text class="s1" x="719" y="76">478</text><text class="s2" x="719" y="89">82288</text><text class="s3" x="719" y="102">50.00%</text>
<text class="s1" x="959" y="76">301</text><text class="s2" x="959" y="89">83492</text><text class="s3" x="959" y="102">50.00%</text>
</g>

<g id="row16" transform="translate(31.5,2512.5)">
<use href="#g4"/>
<rect class="g" x="0" y="-3.5" width="60" height="7"/><rect class="b" x="150" y="41.5" width="45" height="7"/><rect class="y" x="210" y="26.5" width="90" height="7"/><rect class="g" x="450" y="-3.5" width="90" height="7"/><rect class="y" x="690" y="26.5" width="75" height="7"/><rect class="y" x="810" y="26.5" width="75" height="7"/>
<use href="#st" class="r" x="330" y="15"/><use href="#st" class="o" x="345" y="60"/><use href="#st" class="r" x="360" y="15"/><use href="#st" class="y" x="390" y="30"/><use href="#st" class="r" x="420" y="15"/><use href="#st" class="g" x="450" y="0"/>
<circle class="b" cx="150" cy="45" r="5"/><circle class="y" cx="210" cy="30" r="5"/><circle class="y" cx="600" cy="30" r="5"/><circle class="b" cx="630" cy="45" r="5"/><circle class="y" cx="660" cy="30" r="5"/><circle class="y" cx="690" cy="30" r="5"/><circle class="b" cx="780" cy="45" r="5"/><circle class="y" cx="810" cy="30" r="5"/><circle class="r" cx="900" cy="15" r="5"/><circle class="g" cx="930" cy="0" r="5"/>
<rect class="gp" x="330" y="0" width="210" height="60"/>
<text class="mn" x="0" y="-7">61</text><text class="mn" x="240" y="-7">62</text><text class="mn" x="480" y="-7">63</text><text class="mn" x="720" y="-7">64</text>
<text class="s1" x="239" y="76">99</text><text class="s2" x="239" y="89">83888</text><text class="s3" x="239" y="102">50.00%</text>
<text class="s1" x="479" y="76">234</text><text class="s2" x="479" y="89">84824</text><text class="s3" x="479" y="102">75.00%</text>
<text class="s1" x="719" y="76">162</text><text class="s2" x="719" y="89">85472</text><text class="s3" x="719" y="102">75.00%</text>
<text class="s1" x="959" y="76">169</text><text class="s2" x="959" y="89">86148</text><text class="s3" x="959" y="102">75.00%</text>
</g>

<g id="row17" transform="translate(31.5,2665.5)">
<use href="#g4"/>
<rect class="r" x="60" y="11.5" width="45" height="7"/><rect class="o" x="60" y="56.5" width="45" height="7"/><rect class="g" x="240" y="-3.5" width="45" height="7"/><rect class="b" x="240" y="41.5" width="45" height="7"/><rect class="g" x="330" y="-3.5" width="45" height="7"/><rect class="b" x="330" y="41.5" width="45" height="7"/><rect class="r" x="480" y="11.5" width="45" height="7"/><rect class="y" x="480" y="26.5" width="45" height="7"/><rect class="g" x="720" y="-3.5" width="45" height="7"/><rect class="y" x="720" y="26.5" width="45" height="7"/><rect class="g" x="810" y="-3.5" width="45" height="7"/><rect class="y" x="810" y="26.5" width="45" height="7"/>
<circle class="r" cx="0" cy="15" r="5"/><circle class="r" cx="30" cy="15" r="5"/><circle class="r" cx="60" cy="15" r="5"/><circle class="r" cx="120" cy="15" r="5"/><circle class="r" cx="150" cy="15" r="5"/><circle class="r" cx="180" cy="15" r="5"/><circle class="r" cx="450" cy="15" r="5"/><circle class="r" cx="480" cy="15" r="5"/><circle class="r" cx="540" cy="15" r="5"/><circle class="r" cx="570" cy="15" r="5"/><circle class="r" cx="600" cy="15" r="5"/><circle class="r" cx="630" cy="15" r="5"/><circle class="r" cx="660" cy="15" r="5"/><circle class="r" cx="930" cy="15" r="5"/>
<circle class="o" cx="60" cy="60" r="5"/><circle class="o" cx="120" cy="60" r="5"/><circle class="o" cx="150" cy="60" r="5"/><circle class="o" cx="180" cy="60" r="5"/>
<circle class="g" cx="210" cy="0" r="5"/><circle class="g" cx="240" cy="0" r="5"/><circle class="g" cx="300" cy="0" r="5"/><circle class="g" cx="330" cy="0" r="5"/><circle class="g" cx="390" cy="0" r="5"/><circle class="g" cx="420" cy="0" r="5"/><circle class="g" cx="690" cy="0" r="5"/><circle class="g" cx="720" cy="0" r="5"/><circle class="g" cx="780" cy="0" r="5"/><circle class="g" cx="810" cy="0" r="5"/><circle class="g" cx="870" cy="0" r="5"/><circle class="g" cx="900" cy="0" r="5"/>
<circle class="b" cx="240" cy="45" r="5"/><circle class="b" cx="300" cy="45" r="5"/><circle class="b" cx="330" cy="45" r="5"/><circle class="b" cx="390" cy="45" r="5"/><circle class="b" cx="420" cy="45" r="5"/>
<circle class="y" cx="480" cy="30" r="5"/><circle class="y" cx="540" cy="30" r="5"/><circle class="y" cx="570" cy="30" r="5"/><circle class="y" cx="600" cy="30" r="5"/><circle class="y" cx="630" cy="30" r="5"/><circle class="y" cx="660" cy="30" r="5"/><circle class="y" cx="720" cy="30" r="5"/><circle class="y" cx="780" cy="30" r="5"/><circle class="y" cx="810" cy="30" r="5"/><circle class="y" cx="870" cy="30" r="5"/><circle class="y" cx="900" cy="30" r="5"/>
<rect class="bp" x="120" y="0" width="840" height="60"/>
<text class="mn" x="0" y="-7">65</text><text class="mn" x="240" y="-7">66</text><text class="mn" x="480" y="-7">67</text><text class="mn" x="720" y="-7">68</text>
<text class="s1" x="239" y="76">414</text><text class="s2" x="239" y="89">88812</text><text class="s3" x="239" y="102">68.73%</text>
<text class="s1" x="479" y="76">432</text><text class="s2" x="479" y="89">92268</text><text class="s3" x="479" y="102">56.23%</text>
<text class="s1" x="719" y="76">486</text><text class="s2" x="719" y="89">96156</text><text class="s3" x="719" y="102">43.73%</text>
<text class="s1" x="959" y="76">432</text><text class="s2" x="959" y="89">99612</text><text class="s3" x="959" y="102">31.23%</text>
</g>

<g id="row18" transform="translate(31.5,2818.5)">
<use href="#g4"/>
<rect class="r" x="0" y="11.5" width="45" height="7"/><rect class="o" x="0" y="56.5" width="45" height="7"/><rect class="r" x="90" y="11.5" width="45" height="7"/><rect class="o" x="90" y="56.5" width="45" height="7"/><rect class="g" x="240" y="-3.5" width="45" height="7"/><rect class="b" x="240" y="41.5" width="45" height="7"/><rect class="g" x="330" y="-3.5" width="45" height="7"/><rect class="b" x="330" y="41.5" width="45" height="7"/><rect class="r" x="480" y="11.5" width="45" height="7"/><rect class="y" x="480" y="26.5" width="45" height="7"/><rect class="g" x="720" y="-3.5" width="45" height="7"/><rect class="y" x="720" y="26.5" width="45" height="7"/><rect class="g" x="810" y="-3.5" width="45" height="7"/><rect class="y" x="810" y="26.5" width="45" height="7"/>
<circle class="r" cx="0" cy="15" r="5"/><circle class="r" cx="60" cy="15" r="5"/><circle class="r" cx="90" cy="15" r="5"/><circle class="r" cx="150" cy="15" r="5"/><circle class="r" cx="180" cy="15" r="5"/><circle class="r" cx="450" cy="15" r="5"/>
<circle class="o" cx="0" cy="60" r="5"/><circle class="o" cx="60" cy="60" r="5"/><circle class="o" cx="90" cy="60" r="5"/><circle class="o" cx="150" cy="60" r="5"/><circle class="o" cx="180" cy="60" r="5"/>
<circle class="g" cx="210" cy="0" r="5"/><circle class="g" cx="240" cy="0" r="5"/><circle class="g" cx="300" cy="0" r="5"/><circle class="g" cx="330" cy="0" r="5"/><circle class="g" cx="390" cy="0" r="5"/><circle class="g" cx="420" cy="0" r="5"/><circle class="g" cx="720" cy="0" r="5"/><circle class="g" cx="780" cy="0" r="5"/><circle class="g" cx="810" cy="0" r="5"/><circle class="g" cx="870" cy="0" r="5"/><circle class="g" cx="900" cy="0" r="5"/><circle class="g" cx="930" cy="0" r="5"/>
<circle class="b" cx="240" cy="45" r="5"/><circle class="b" cx="300" cy="45" r="5"/><circle class="b" cx="330" cy="45" r="5"/><circle class="b" cx="390" cy="45" r="5"/><circle class="b" cx="420" cy="45" r="5"/>
<circle class="y" cx="720" cy="30" r="5"/><circle class="y" cx="780" cy="30" r="5"/><circle class="y" cx="810" cy="30" r="5"/><circle class="y" cx="870" cy="30" r="5"/><circle class="y" cx="900" cy="30" r="5"/>
<use href="#st" class="r" x="480" y="15"/><use href="#st" class="y" x="480" y="30"/><use href="#st" class="r" x="540" y="15"/><use href="#st" class="y" x="540" y="30"/><use href="#st" class="r" x="570" y="15"/><use href="#st" class="y" x="570" y="30"/><use href="#st" class="r" x="600" y="15"/><use href="#st" class="y" x="600" y="30"/><use href="#st" class="r" x="630" y="15"/><use href="#st" class="y" x="630" y="30"/><use href="#st" class="r" x="660" y="15"/><use href="#st" class="y" x="660" y="30"/><use href="#st" class="g" x="690" y="0"/>
<rect class="gp" x="480" y="0" width="210" height="60"/><rect class="bp" x="0" y="0" width="600" height="60"/><rect class="bp" x="720" y="0" width="240" height="60"/>
<text class="mn" x="0" y="-7">69</text><text class="mn" x="240" y="-7">70</text><text class="mn" x="480" y="-7">71</text><text class="mn" x="720" y="-7">72</text>
<text class="s1" x="239" y="76">432</text><text class="s2" x="239" y="89">103068</text><text class="s3" x="239" y="102">18.73%</text>
<text class="s1" x="479" y="76">432</text><text class="s2" x="479" y="89">106524</text><text class="s3" x="479" y="102">6.23%</text>
<text class="s1" x="719" y="76">486</text><text class="s2" x="719" y="89">109692</text><text class="s3" x="719" y="102">24.98%</text>
<text class="s1" x="959" y="76">432</text><text class="s2" x="959" y="89">113148</text><text class="s3" x="959" y="102">12.48%</text>
</g>

<g id="row19" transform="translate(31.5,2971.5)">
<use href="#g4"/>
<rect class="r" x="480" y="11.5" width="75" height="7"/><rect class="g" x="870" y="-3.5" width="75" height="7"/>
<circle class="y" cx="90" cy="30" r="5"/><circle class="y" cx="150" cy="30" r="5"/><circle class="g" cx="180" cy="0" r="5"/><circle class="b" cx="210" cy="45" r="5"/><circle class="g" cx="270" cy="0" r="5"/><circle class="b" cx="420" cy="45" r="5"/><circle class="o" cx="450" cy="60" r="5"/><circle class="r" cx="480" cy="15" r="5"/><circle class="y" cx="570" cy="30" r="5"/><circle class="y" cx="630" cy="30" r="5"/><circle class="g" cx="660" cy="0" r="5"/><circle class="b" cx="690" cy="45" r="5"/><circle class="g" cx="750" cy="0" r="5"/><circle class="r" cx="810" cy="15" r="5"/><circle class="g" cx="870" cy="0" r="5"/>
<rect class="bp" x="0" y="0" width="240" height="60"/>
<text class="mn" x="0" y="-7">73</text><text class="mn" x="240" y="-7">74</text><text class="mn" x="480" y="-7">75</text><text class="mn" x="720" y="-7">76</text>
<text class="s1" x="239" y="76">144</text><text class="s2" x="239" y="89">114300</text><text class="s3" x="239" y="102">0.00%</text>
<text class="s1" x="479" y="76">108</text><text class="s2" x="479" y="89">114732</text><text class="s3" x="479" y="102">0.00%</text>
<text class="s1" x="719" y="76">195</text><text class="s2" x="719" y="89">115512</text><text class="s3" x="719" y="102">0.00%</text>
<text class="s1" x="959" y="76">123</text><text class="s2" x="959" y="89">116004</text><text class="s3" x="959" y="102">0.00%</text>
</g>

<g id="row20" transform="translate(31.5,3124.5)">
<use href="#g4"/>
<rect class="r" x="0" y="11.5" width="225" height="7"/><rect class="y" x="240" y="26.5" width="225" height="7"/><rect class="b" x="510" y="41.5" width="195" height="7"/><rect class="o" x="720" y="56.5" width="225" height="7"/>
<circle class="r" cx="0" cy="15" r="5"/><circle class="y" cx="240" cy="30" r="5"/><circle class="r" cx="480" cy="15" r="5"/><circle class="b" cx="510" cy="45" r="5"/><circle class="o" cx="720" cy="60" r="5"/>
<text class="mn" x="0" y="-7">77</text><text class="mn" x="240" y="-7">78</text><text class="mn" x="480" y="-7">79</text><text class="mn" x="720" y="-7">80</text>
<text class="s1" x="239" y="76">81</text><text class="s2" x="239" y="89">116328</text><text class="s3" x="239" y="102">0.00%</text>
<text class="s1" x="479" y="76">81</text><text class="s2" x="479" y="89">116652</text><text class="s3" x="479" y="102">0.00%</text>
<text class="s1" x="719" y="76">111</text><text class="s2" x="719" y="89">117096</text><text class="s3" x="719" y="102">0.00%</text>
<text class="s1" x="959" y="76">81</text><text class="s2" x="959" y="89">117420</text><text class="s3" x="959" y="102">0.00%</text>
</g>

<g id="row21" transform="translate(31.5,3277.5)">
<use href="#g3"/>
<rect class="b" x="0" y="41.5" width="45" height="7"/><rect class="y" x="60" y="26.5" width="45" height="7"/><rect class="r" x="120" y="11.5" width="45" height="7"/><rect class="g" x="210" y="-3.5" width="270" height="7"/>
<circle class="b" cx="0" cy="45" r="5"/><circle class="y" cx="60" cy="30" r="5"/><circle class="r" cx="120" cy="15" r="5"/><circle class="b" cx="180" cy="45" r="5"/><circle class="g" cx="210" cy="0" r="5"/>
<text class="mn" x="0" y="-7">81</text><text class="mn" x="240" y="-7">82</text><text class="mn" x="480" y="-7">83</text>
<text class="s1" x="239" y="76">212</text><text class="s2" x="239" y="89">118268</text><text class="s3" x="239" y="102">0.00%</text>
<text class="s1" x="479" y="76">48</text><text class="s2" x="479" y="89">118460</text><text class="s3" x="479" y="102">0.00%</text>
<text class="s1" x="719" y="76">1</text><text class="s2" x="719" y="89">118464</text><text class="s3" x="719" y="102">0.00%</text>
</g>
</svg>
